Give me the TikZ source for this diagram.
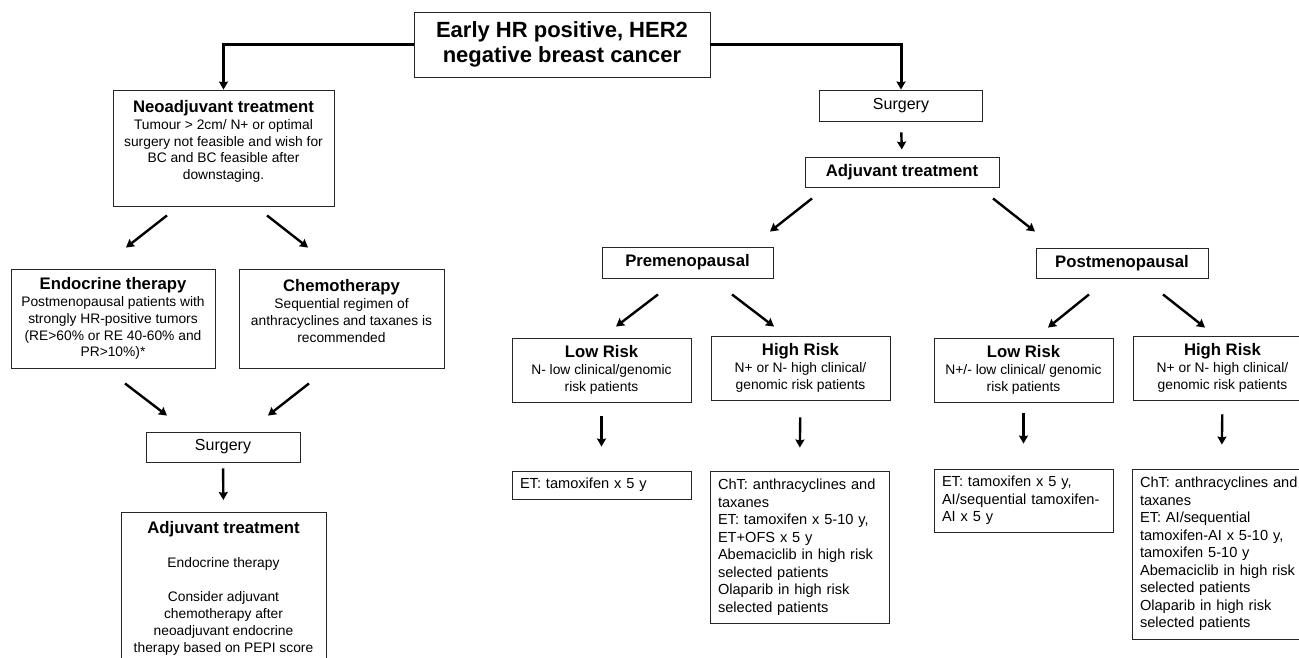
\documentclass[tikz,border=0pt]{standalone}
\usepackage{fontspec}
\setmainfont{Liberation Sans}
\usetikzlibrary{arrows.meta,calc}
\newcommand{\sm}{\fontsize{13.8pt}{16.9pt}\selectfont}
\newcommand{\li}{\fontsize{14.6pt}{17.5pt}\selectfont}
\newcommand{\hd}[1]{{\fontsize{16.7pt}{19pt}\selectfont\bfseries #1}}

\begin{document}
\begin{tikzpicture}[x=1pt, y=-1pt, >={Stealth[length=8pt, width=9pt, inset=1pt]}, font=\sm]
	\tikzstyle{box}=[draw=black!85, line width=0.9pt, align=center, inner sep=0pt]
	\tikzstyle{lbox}=[box, align=left, font=\li, inner xsep=8pt, text width=163pt]
	\tikzstyle{arr}=[->, line width=2.4pt]
	\tikzstyle{conn}=[->, line width=3pt]

	\useasboundingbox (0,0) rectangle (1299,657);
	\clip (0,0) rectangle (1299,657);

	\node[box, minimum width=296pt, minimum height=65pt,
		font=\fontsize{22pt}{25pt}\selectfont\bfseries] (title) at (562,44.5)
		{Early HR positive, HER2\\negative breast cancer};

	% neoadjuvant side
	\node[box, minimum width=221pt, minimum height=116pt, text depth=16pt] (neo) at (223.5,148)
		{\hd{Neoadjuvant treatment}\\Tumour > 2cm/ N+ or optimal\\surgery not feasible and wish for\\BC and BC feasible after\\downstaging.};
	\node[box, minimum width=204pt, minimum height=99pt] (endo) at (113,318.5)
		{\hd{Endocrine therapy}\\Postmenopausal patients with\\strongly HR-positive tumors\\(RE>60\% or RE 40-60\% and\\PR>10\%)*};
	\node[box, minimum width=205pt, minimum height=99pt, text depth=15pt] (chemo) at (341.5,318.5)
		{\hd{Chemotherapy}\\Sequential regimen of\\anthracyclines and taxanes is\\recommended};
	\node[box, minimum width=154pt, minimum height=30pt, font=\fontsize{16pt}{19pt}\selectfont] (surgL) at (223,447) {Surgery};
	\node[box, minimum width=205pt, anchor=north, inner ysep=9pt, text depth=12pt] (adjL) at (223.5,512)
		{\hd{Adjuvant treatment}\\[17pt]Endocrine therapy\\[17pt]Consider adjuvant\\chemotherapy after\\neoadjuvant endocrine\\therapy based on PEPI score};

	% surgery first
	\node[box, minimum width=163pt, minimum height=31pt, font=\fontsize{16pt}{19pt}\selectfont] (surgR) at (901,105.5) {Surgery};
	\node[box, minimum width=194pt, minimum height=30pt] (adjR) at (902,172) {\hd{Adjuvant treatment}};
	\node[box, minimum width=171pt, minimum height=31pt] (pre) at (687.5,262.5) {\hd{Premenopausal}};
	\node[box, minimum width=172pt, minimum height=30pt] (post) at (1122,263) {\hd{Postmenopausal}};

	\node[box, minimum width=179pt, minimum height=64pt] (lowPre) at (601.5,370)
		{\hd{Low Risk}\\N- low clinical/genomic\\risk patients};
	\node[box, minimum width=179pt, minimum height=64pt] (highPre) at (800.5,368)
		{\hd{High Risk}\\N+ or N- high clinical/\\genomic risk patients};
	\node[box, minimum width=179pt, minimum height=64pt] (lowPost) at (1023.5,370)
		{\hd{Low Risk}\\N+/- low clinical/ genomic\\risk patients};
	\node[box, minimum width=179pt, minimum height=64pt] (highPost) at (1222.5,368)
		{\hd{High Risk}\\N+ or N- high clinical/\\genomic risk patients};

	\node[lbox, minimum height=28pt] (etPre) at (601.5,485) {ET: tamoxifen x 5 y};
	\node[lbox, minimum height=152pt] (chtPre) at (799.5,547)
		{ChT: anthracyclines and\\taxanes\\ET: tamoxifen x 5-10 y,\\ET+OFS x 5 y\\Abemaciclib in high risk\\selected patients\\Olaparib in high risk\\selected patients};
	\node[lbox, minimum height=63pt] (etPost) at (1023.5,500.5)
		{ET: tamoxifen x 5 y,\\AI/sequential tamoxifen-\\AI x 5 y};
	\node[lbox, minimum height=170pt] (chtPost) at (1221.5,554)
		{ChT: anthracyclines and\\taxanes\\ET: AI/sequential\\tamoxifen-AI x 5-10 y,\\tamoxifen 5-10 y\\Abemaciclib in high risk\\selected patients\\Olaparib in high risk\\selected patients};

	\draw[conn] (title.west) -| (neo.north);
	\draw[conn] (title.east) -| (surgR.north);

	\draw[arr] ($(neo.south)+(-56.5,9)$) -- ($(endo.north)+(13,-21)$);
	\draw[arr] ($(neo.south)+(43.5,9)$) -- ($(chemo.north)+(-33.5,-21)$);
	\draw[arr] ($(endo.south)+(12,15)$) -- ($(surgL.north)+(-56,-16)$);
	\draw[arr] ($(chemo.south)+(-32.5,15)$) -- ($(surgL.north)+(45,-16)$);
	\draw[arr, shorten <=6pt, shorten >=12pt] (surgL.south) -- (adjL.north);

	\draw[arr, shorten <=11pt, shorten >=7pt] (surgR.south) -- (adjR.north);
	\draw[arr] ($(adjR.south)+(-90,11)$) -- ($(pre.north)+(82.5,-15)$);
	\draw[arr] ($(adjR.south)+(91,11)$) -- ($(post.north)+(-87,-16)$);
	\draw[arr] ($(pre.south)+(-29.5,16)$) -- ($(lowPre.north)+(14.5,-11)$);
	\draw[arr] ($(pre.south)+(44.5,16)$) -- ($(highPre.north)+(-26.5,-9)$);
	\draw[arr] ($(post.south)+(-33,16)$) -- ($(lowPost.north)+(24.5,-10)$);
	\draw[arr] ($(post.south)+(41,16)$) -- ($(highPost.north)+(-17.5,-8)$);
	\draw[arr, shorten <=14pt, shorten >=24pt] (lowPre.south) -- (etPre.north);
	\draw[arr, shorten <=17pt, shorten >=23pt] (highPre.south) -- (chtPre.north);
	\draw[arr, shorten <=11pt, shorten >=25pt] (lowPost.south) -- (etPost.north);
	\draw[arr, shorten <=14pt, shorten >=24pt] (highPost.south) -- (chtPost.north);
\end{tikzpicture}
\end{document}
